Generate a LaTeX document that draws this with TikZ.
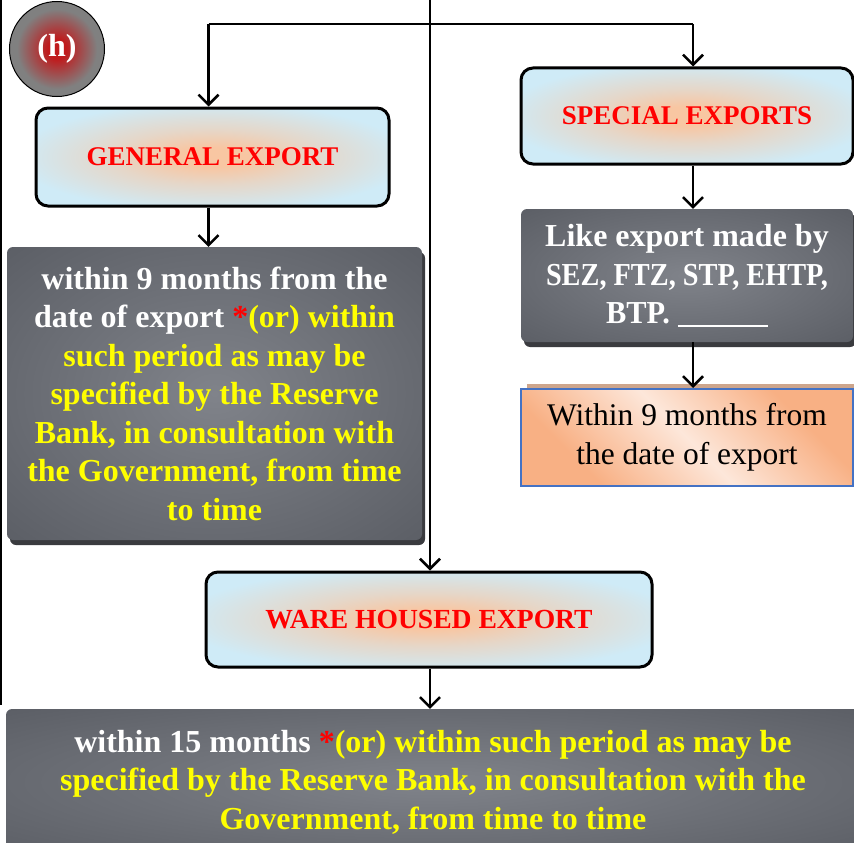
\documentclass[tikz,border=0pt]{standalone}
\usepackage{fontspec}
\setmainfont{Liberation Serif}
\usetikzlibrary{arrows.meta,shadows,calc}

% palette
\definecolor{headblue}{RGB}{207,235,247}
\definecolor{glowor}{RGB}{248,198,162}
\definecolor{darkc}{RGB}{128,131,138}
\definecolor{darke}{RGB}{85,88,95}
\definecolor{shadowgray}{RGB}{58,59,63}
\definecolor{peachdark}{RGB}{248,176,132}
\definecolor{peachlight}{RGB}{253,231,218}
\definecolor{peachshadow}{RGB}{205,165,140}
\definecolor{frameblue}{RGB}{68,114,196}
\definecolor{badgered}{RGB}{192,26,28}
\definecolor{badgegray}{RGB}{128,128,128}
\definecolor{hyellow}{RGB}{255,255,0}
\definecolor{hred}{RGB}{255,0,0}

% shadings
\pgfdeclareradialshading{headglow}{\pgfpoint{0bp}{0bp}}{%
  color(0bp)=(glowor); color(5bp)=(glowor); color(14bp)=(glowor!55!headblue);
  color(28bp)=(headblue); color(50bp)=(headblue)}
\pgfdeclareradialshading{darkglow}{\pgfpoint{0bp}{0bp}}{%
  color(0bp)=(darkc); color(42bp)=(darke); color(50bp)=(darke)}
\pgfdeclareradialshading{badgeshade}{\pgfpoint{0bp}{0bp}}{%
  color(0bp)=(badgered); color(5bp)=(badgered); color(21bp)=(badgegray); color(50bp)=(badgegray)}
\pgfdeclarehorizontalshading{peachband}{100bp}{%
  color(0bp)=(peachdark); color(28bp)=(peachdark); color(50bp)=(peachlight);
  color(72bp)=(peachdark); color(100bp)=(peachdark)}

\begin{document}
\begin{tikzpicture}[x=1pt,y=-1pt,
  conn/.style={line width=2.5pt,-{Straight Barb[length=10pt,width=20pt,line width=2.5pt]}},
  bar/.style={line width=2.5pt},
  headbox/.style={draw=black,line width=3pt,rounded corners=12pt,shading=headglow,
    text=hred,font=\fontsize{27}{32}\selectfont\bfseries,inner sep=0pt},
  darkbox/.style={shading=darkglow,rounded corners=6pt,
    general shadow={fill=shadowgray,shadow xshift=3pt,shadow yshift=-5pt},
    inner sep=0pt,align=center,text=hyellow,font=\fontsize{32}{38.5}\selectfont\bfseries},
  peachbox/.style={draw=frameblue,line width=2pt,shading=peachband,shading angle=45,
    general shadow={fill=peachshadow,shadow xshift=6pt,shadow yshift=5pt},
    inner sep=0pt,align=center,text=black,font=\fontsize{31.5}{38.5}\selectfont},
  badge/.style={circle,draw=black,line width=1pt,shading=badgeshade,text=white,
    font=\fontsize{32}{36}\selectfont\bfseries,inner sep=0pt,minimum size=95pt}]
\useasboundingbox (0,0) rectangle (854,843);

% page frame line on the left
\draw[bar] (1.2,0) -- (1.2,705);

% section badge
\node[badge] (tag) at (57,49) {(h)};

% headings
\node[headbox,minimum width=353pt,minimum height=98pt] (gen) at (212.5,157) {GENERAL EXPORT};
\node[headbox,minimum width=332pt,minimum height=96pt] (spec) at (687,116) {SPECIAL EXPORTS};
\node[headbox,minimum width=446pt,minimum height=95pt,font=\fontsize{27.6}{32}\selectfont\bfseries]
  (ware) at (429,619.5) {WARE HOUSED EXPORT};

% time limits
\node[darkbox,minimum width=415pt,minimum height=293pt] (gdark) at (214.5,393.5)
  {\textcolor{white}{within 9 months from the}\\
   \textcolor{white}{date of export} \textcolor{hred}{*}(or) within\\
   such period as may be\\
   specified by the Reserve\\
   Bank, in consultation with\\
   the Government, from time\\
   to time};
\node[darkbox,minimum width=332pt,minimum height=133pt] (sdark) at (687,275.5)
  {\textcolor{white}{Like export made by}\\
   \textcolor{white}{\scalebox{0.885}[1]{SEZ, FTZ, STP, EHTP,}}\\
   \textcolor{white}{\scalebox{0.95}[1]{BTP.} \rule[-3pt]{90pt}{2pt}}};
\node[peachbox,minimum width=332pt,minimum height=97pt] (sper) at (687,437.5)
  {Within 9 months from\\the date of export};
\node[darkbox,minimum width=854pt,minimum height=146pt] (wdark) at (433,782)
  {\textcolor{white}{within 15 months} \textcolor{hred}{*}(or) within such period as may be\\
   specified by the Reserve Bank, in consultation with the\\
   Government, from time to time};

% connectors
\coordinate (src) at (430,0);
\coordinate (jl) at (208.5,24);
\coordinate (jr) at (693,24);
\draw[bar] (jl) -- (jr);
\draw[conn] (src) -- (src |- ware.north);
\draw[conn] (jl) -- (jl |- gen.north);
\draw[conn] (jr) -- (jr |- spec.north);
\draw[conn] (gen.south -| jl) -- (gdark.north -| jl);
\draw[conn] (spec.south -| jr) -- (sdark.north -| jr);
\draw[conn] (sdark.south -| jr) -- (sper.north -| jr);
\draw[conn] (ware.south -| src) -- (wdark.north -| src);
\end{tikzpicture}
\end{document}
